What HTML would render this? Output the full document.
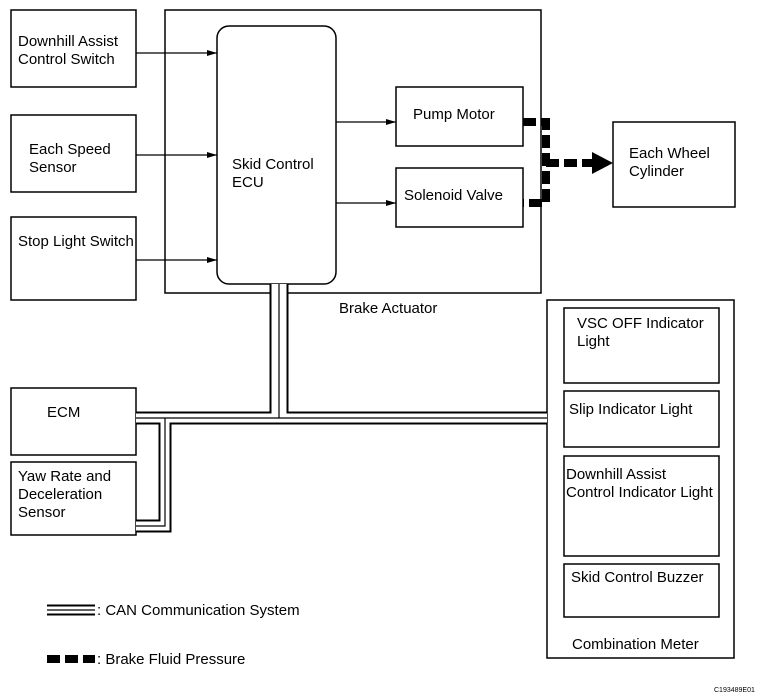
<!DOCTYPE html>
<html><head><style>
body{margin:0;background:#fff;}
svg{display:block;font-family:"Liberation Sans",Arial,sans-serif;}
text{font-size:15px;fill:#000;}
</style></head><body>
<svg width="771" height="699" viewBox="0 0 771 699">
<defs>
<marker id="a" markerWidth="10" markerHeight="8" refX="10" refY="4" orient="auto" markerUnits="userSpaceOnUse"><path d="M0,1 L10,4 L0,7 Z" fill="#000"/></marker>
</defs>
<g fill="none" stroke="#000" stroke-width="1.5">
<rect x="165" y="10" width="376" height="283"/>
<rect x="217" y="26" width="119" height="258" rx="12"/>
<rect x="11" y="10" width="125" height="77"/>
<rect x="11" y="115" width="125" height="77"/>
<rect x="11" y="217" width="125" height="83"/>
<rect x="11" y="388" width="125" height="67"/>
<rect x="11" y="462" width="125" height="73"/>
<rect x="396" y="87" width="127" height="59"/>
<rect x="396" y="168" width="127" height="59"/>
<rect x="613" y="122" width="122" height="85"/>
<rect x="547" y="300" width="187" height="358"/>
<rect x="564" y="308" width="155" height="75"/>
<rect x="564" y="391" width="155" height="56"/>
<rect x="564" y="456" width="155" height="100"/>
<rect x="564" y="564" width="155" height="53"/>
<g stroke-width="1.2">
<line x1="136" y1="53" x2="217" y2="53" marker-end="url(#a)"/>
<line x1="136" y1="155" x2="217" y2="155" marker-end="url(#a)"/>
<line x1="136" y1="260" x2="217" y2="260" marker-end="url(#a)"/>
<line x1="336" y1="122" x2="396" y2="122" marker-end="url(#a)"/>
<line x1="336" y1="203" x2="396" y2="203" marker-end="url(#a)"/>
</g>
</g>
<g fill="none" stroke-linejoin="miter">
<path d="M276 284 V418 H136 M282 284 V418 H547 M136 418 H165 V526 H136" stroke="#000" stroke-width="13"/>
<path d="M276 284 V418 H136 M282 284 V418 H547 M136 418 H165 V526 H136" stroke="#fff" stroke-width="9"/>
<path d="M279 284 V418 H136 M279 418 H547 M136 418 H165 V526 H136" stroke="#000" stroke-width="1.2"/>
</g>
<g fill="none" stroke="#000" stroke-width="8" stroke-dasharray="13,5">
<path d="M523 122 H546 V203 H523"/>
<path d="M546 163 H594"/>
</g>
<path d="M592 152 L613 163 L592 174 Z" fill="#000"/>
<path d="M47 610 H95" stroke="#000" stroke-width="11"/>
<path d="M47 610 H95" stroke="#fff" stroke-width="7"/>
<path d="M47 610 H95" stroke="#000" stroke-width="1.2"/>
<path d="M47 659 H95" stroke="#000" stroke-width="8" stroke-dasharray="13,5"/>
<text x="97" y="615">: CAN Communication System</text>
<text x="97" y="664">: Brake Fluid Pressure</text>
<text x="18" y="46">Downhill Assist</text>
<text x="18" y="64">Control Switch</text>
<text x="29" y="154">Each Speed</text>
<text x="29" y="172">Sensor</text>
<text x="18" y="246">Stop Light Switch</text>
<text x="47" y="417">ECM</text>
<text x="18" y="481">Yaw Rate and</text>
<text x="18" y="499">Deceleration</text>
<text x="18" y="517">Sensor</text>
<text x="232" y="169">Skid Control</text>
<text x="232" y="187">ECU</text>
<text x="413" y="119">Pump Motor</text>
<text x="404" y="200">Solenoid Valve</text>
<text x="629" y="158">Each Wheel</text>
<text x="629" y="176">Cylinder</text>
<text x="339" y="313">Brake Actuator</text>
<text x="577" y="328">VSC OFF Indicator</text>
<text x="577" y="346">Light</text>
<text x="569" y="414">Slip Indicator Light</text>
<text x="566" y="479">Downhill Assist</text>
<text x="566" y="497">Control Indicator Light</text>
<text x="571" y="582">Skid Control Buzzer</text>
<text x="572" y="649">Combination Meter</text>
<text x="714" y="692" style="font-size:7px">C193489E01</text>
</svg>
</body></html>
